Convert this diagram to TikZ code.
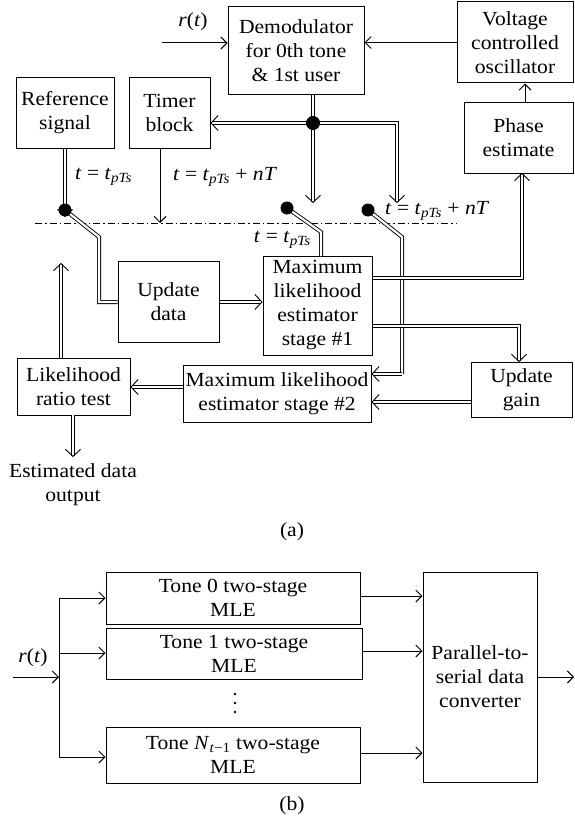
\documentclass[tikz,border=0pt]{standalone}
\usepackage{fontspec}
\setmainfont[FakeStretch=1.08]{Liberation Serif}
\usetikzlibrary{arrows.meta,calc}
\newcommand{\mi}[1]{\textit{#1}}
\newcommand{\tpts}{\mi{t}\textsubscript{\mi{pTs}}}
\tikzset{
  blk/.style={draw, line width=1pt, align=center, inner sep=0pt, font=\fontsize{20}{24}\selectfont},
  lbl/.style={inner sep=0pt, font=\fontsize{20}{24}\selectfont},
  sarr/.style={line width=1pt, -{Straight Barb[length=6pt,width=12pt,line width=1pt]}},
  sline/.style={line width=1pt},
  dline/.style={double, double distance=2.2pt, line width=0.9pt},
  darr/.style={double, double distance=2.2pt, line width=0.9pt, -{Straight Barb[length=7pt,width=15pt,line width=0.9pt]}},
  sw/.style={circle, fill=black, inner sep=0pt, minimum size=13pt},
  vdot/.style={circle, fill=black, inner sep=0pt, minimum size=2.6pt}
}
\begin{document}
\begin{tikzpicture}[x=1pt,y=-1pt]
\useasboundingbox (0,0) rectangle (575,824);
% ---------- (a) boxes
\node[blk, minimum width=136pt, minimum height=88pt] (demod) at (296,51) {Demodulator\\for 0th tone\\\& 1st user};
\node[blk, minimum width=116pt, minimum height=81pt] (vco) at (515,42.5) {Voltage\\controlled\\oscillator};
\node[blk, minimum width=109pt, minimum height=70pt] (phase) at (518.5,138) {Phase\\estimate};
\node[blk, minimum width=98pt, minimum height=70pt] (ref) at (65,113) {Reference\\signal};
\node[blk, minimum width=81pt, minimum height=70pt] (timer) at (169.5,113) {Timer\\block};
\node[blk, minimum width=101pt, minimum height=81pt] (upd) at (168.5,301.5) {Update\\data};
\node[blk, minimum width=109pt, minimum height=99pt] (mle1) at (317.5,305.5) {Maximum\\likelihood\\estimator\\stage \#1};
\node[blk, minimum width=188pt, minimum height=57pt] (mle2) at (277,393.5) {Maximum likelihood\\estimator stage \#2};
\node[blk, minimum width=101pt, minimum height=55pt] (gain) at (521.5,389.5) {Update\\gain};
\node[blk, minimum width=113pt, minimum height=57pt] (lrt) at (73.5,386.5) {Likelihood\\ratio test};
\node[lbl, align=center] (est) at (73,485) {Estimated data\\output};
% labels
\node[lbl] (lr) at (193,22) {\mi{r}(\mi{t})};
\node[lbl, anchor=west] (l1) at (75,177) {\mi{t} = \tpts};
\node[lbl, anchor=west] (l2) at (173,177) {\mi{t} = \tpts{} + \mi{nT}};
\node[lbl, anchor=east] (l3) at (311,240) {\mi{t} = \tpts};
\node[lbl, anchor=west] (l4) at (385,211) {\mi{t} = \tpts{} + \mi{nT}};
\node[lbl] (capa) at (292,532) {(a)};
% coordinates
\coordinate (rin) at (162,43);
\coordinate (J) at (313,123);
\coordinate (a2) at (313,203);
\coordinate (a3c) at (397,123);
\coordinate (a3) at (397,203);
\coordinate (dl) at (35,223);
\coordinate (dr) at (457,223);
\coordinate (s1) at (65,210);
\coordinate (s2) at (287,208);
\coordinate (s3) at (368,210);
% dash-dot line
\draw[line width=0.9pt, dash pattern=on 7pt off 3pt on 1.5pt off 3pt] (dl) -- (dr);
% single connectors
\draw[sarr] (rin) -- (rin -| demod.west);
\draw[sarr] (vco.west) -- (vco.west -| demod.east);
\draw[sarr] ([xshift=6.5pt]phase.north) -- ([xshift=6.5pt]phase.north |- vco.south);
\draw[sarr] ([xshift=-9.5pt]timer.south) -- ([xshift=-9.5pt]timer.south |- dl);
% double connectors
\draw[dline] (J |- demod.south) -- (J);
\draw[darr] (J) -- (J -| timer.east);
\draw[darr] (J) -- (a2);
\draw[darr] (J) -- (a3c) -- (a3);
\draw[darr] (ref.south) -- ([yshift=-7pt]s1);
\draw[dline] (s1) -- (99,237) -- (99,302) -- (upd.west |- 0,302);
\draw[darr] (upd.east |- 0,302) -- (mle1.west |- 0,302);
\draw[dline] (s2) -- (321,232) -- (321,256);
\draw[dline] (s3) -- (402,237) -- (402,374);
\draw[darr] (402,374) -- (mle2.east |- 0,374);
\draw[darr] (mle1.east |- 0,278) -- (522,278) -- (522,173);
\draw[darr] (mle1.east |- 0,326) -- (519,326) -- (519,362);
\draw[darr] (gain.west |- 0,402) -- (mle2.east |- 0,402);
\draw[darr] (mle2.west |- 0,387) -- (lrt.east |- 0,387);
\draw[darr] (61,358) -- (61,263);
\draw[darr] (73,415) -- (73,457);
% dots drawn on top
\node[sw] (sd1) at (s1) {};
\node[sw] (sd2) at (s2) {};
\node[sw] (sd3) at (s3) {};
\node[circle, fill=black, inner sep=0pt, minimum size=14pt] (jd) at (J) {};
% ---------- (b)
\node[blk, minimum width=254pt, minimum height=52pt] (t0) at (233,598) {Tone 0 two-stage\\MLE};
\node[blk, minimum width=256pt, minimum height=51pt] (t1) at (234,653.5) {Tone 1 two-stage\\MLE};
\node[blk, minimum width=254pt, minimum height=56pt] (tn) at (233,755) {Tone \mi{N}\textsubscript{\mi{t}−1} two-stage\\MLE};
\node[blk, minimum width=114pt, minimum height=210pt] (ps) at (480,677) {Parallel-to-\\serial data\\converter};
\node[vdot] (v1) at (235,694) {};
\node[vdot] (v2) at (235,703) {};
\node[vdot] (v3) at (235,712) {};
\node[lbl] (rb) at (33,658) {\mi{r}(\mi{t})};
\node[lbl] (capb) at (292,806) {(b)};
\coordinate (bin) at (13,677);
\coordinate (bj) at (59,677);
\coordinate (bt) at (59,598);
\coordinate (b1) at (59,653);
\coordinate (bb) at (59,757);
\coordinate (bout) at (574,677);
\draw[sarr] (bin) -- (bj);
\draw[sline] (bt) -- (bb);
\draw[sarr] (bt) -- (bt -| t0.west);
\draw[sarr] (b1) -- (b1 -| t1.west);
\draw[sarr] (bb) -- (bb -| tn.west);
\draw[sarr] (t0.east |- 0,596) -- (ps.west |- 0,596);
\draw[sarr] (t1.east |- 0,651) -- (ps.west |- 0,651);
\draw[sarr] (tn.east |- 0,753) -- (ps.west |- 0,753);
\draw[sarr] (ps.east) -- (bout);
\end{tikzpicture}
\end{document}
